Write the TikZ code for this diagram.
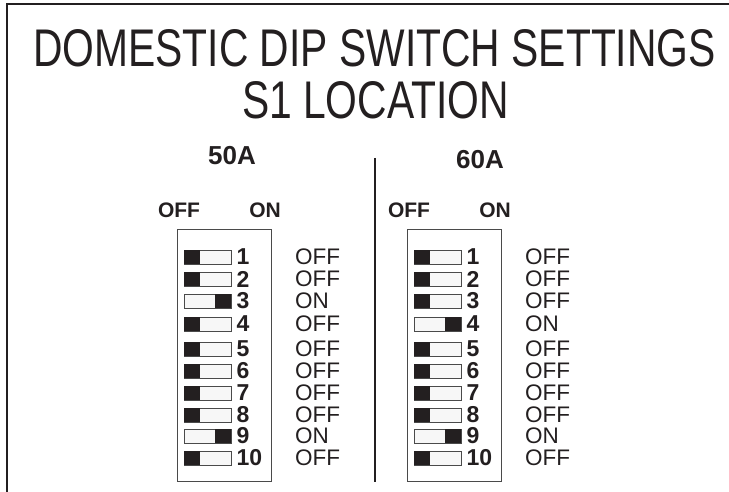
\documentclass[tikz,border=0pt]{standalone}
\usepackage{fontspec}
\setmainfont{Liberation Sans}
\definecolor{ink}{HTML}{231F20}
\definecolor{swfill}{HTML}{F7F7F7}
\definecolor{edge}{HTML}{4A4A4A}
\tikzset{
  titletext/.style={inner sep=0pt, text=ink, font=\fontsize{53}{60}\selectfont},
  headtext/.style={inner sep=0pt, text=ink, font=\bfseries\fontsize{26}{30}\selectfont},
  offontext/.style={inner sep=0pt, text=ink, font=\bfseries\fontsize{21}{25}\selectfont},
  numtext/.style={inner sep=0pt, anchor=west, text=ink, font=\bfseries\fontsize{23}{27}\selectfont},
  stattext/.style={inner sep=0pt, anchor=west, text=ink, font=\fontsize{22.5}{26}\selectfont},
  swbox/.style={draw=edge, line width=1pt, fill=white, minimum width=94pt, minimum height=252pt, anchor=north west, inner sep=0pt},
  swbody/.style={draw=edge, line width=0.9pt, fill=swfill, minimum width=47pt, minimum height=14pt, inner sep=0pt},
  knob/.style={fill=ink},
  frameline/.style={draw=ink, line width=2.6pt},
  sepline/.style={draw=ink, line width=1.4pt},
}
\newcommand\dippanel[3]{%
  \begin{scope}[xshift=#2]
    \node[offontext] (#1off) at (179,210) {OFF};
    \node[offontext] (#1on) at (265,210) {ON};
    \node[swbox] (#1box) at (177,229) {};
    \foreach \n/\yy/\s in {#3} {
      \node[swbody] (#1sw\n) at (207.5,\yy) {};
      \ifnum\s=0
        \fill[knob] (#1sw\n.north west) rectangle ([xshift=16pt]#1sw\n.south west);
      \else
        \fill[knob] ([xshift=-16pt]#1sw\n.north east) rectangle (#1sw\n.south east);
      \fi
      \node[numtext] (#1num\n) at (236.5,\yy) {\n};
      \node[stattext] (#1st\n) at (295,\yy) {\ifnum\s=0 OFF\else ON\fi};
    }
  \end{scope}}
\begin{document}
\begin{tikzpicture}[x=1pt,y=-1pt]
\useasboundingbox (0,0) rectangle (729,492);
\fill[white] (0,0) rectangle (729,492);
\coordinate (fb) at (7,493);
\coordinate (fc) at (7,4);
\coordinate (fr) at (730,4);
\draw[frameline] (fb) -- (fc) -- (fr);
\node[titletext] (title1) at (374.5,48) {\scalebox{0.77}[1]{DOMESTIC DIP SWITCH SETTINGS}};
\node[titletext] (title2) at (375.5,100) {\scalebox{0.77}[1]{S1 LOCATION}};
\node[headtext] (h50) at (232,156) {50A};
\node[headtext] (h60) at (480,160) {60A};
\coordinate (septop) at (375,158);
\coordinate (sepbot) at (375,482);
\draw[sepline] (septop) -- (sepbot);
\dippanel{L}{0pt}{1/257/0,2/279/0,3/301/1,4/324/0,5/349/0,6/371/0,7/393/0,8/415/0,9/436/1,10/458/0}
\dippanel{R}{230pt}{1/257/0,2/279/0,3/301/0,4/324/1,5/349/0,6/371/0,7/393/0,8/415/0,9/436/1,10/458/0}
\end{tikzpicture}
\end{document}
